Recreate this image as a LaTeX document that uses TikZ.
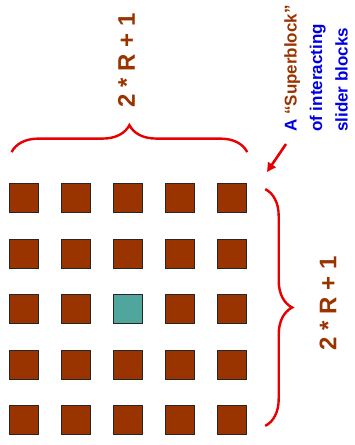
\documentclass[tikz,border=0pt]{standalone}
\usepackage{fontspec}
\setmainfont{Liberation Sans}
\usepackage{tikz}
\usetikzlibrary{arrows.meta, decorations.pathreplacing}

\definecolor{blockbrown}{RGB}{153,51,0}
\definecolor{blockteal}{RGB}{78,166,156}
\definecolor{bracered}{RGB}{232,0,0}
\definecolor{noteblue}{RGB}{0,0,230}

\begin{document}
\begin{tikzpicture}[
  x=1pt, y=1pt,
  block/.style={rectangle, draw=black!85, fill=blockbrown, line width=0.8pt, minimum size=29pt, inner sep=0pt},
  brace/.style={decorate, decoration={brace, amplitude=27pt}, draw=bracered, line width=2.4pt},
  lbl/.style={rotate=90, inner sep=0pt, text=blockbrown, font=\fontsize{24}{28}\selectfont\bfseries},
  note/.style={rotate=90, anchor=north west, align=left, inner sep=0pt, text=noteblue, font=\fontsize{17}{25.5}\selectfont\bfseries},
  arrow/.style={draw=bracered, line width=2.6pt, -{Triangle[length=9pt, width=9pt]}}
]
\useasboundingbox (0,0) rectangle (354,445);

% the superblock: 5 x 5 slider blocks, the middle one highlighted
\foreach \r in {1,...,5}
  \foreach \c in {1,...,5} {
    \ifnum\r\c=33 \def\blockfill{blockteal}\else\def\blockfill{blockbrown}\fi
    \node (sq\r\c) [block, fill=\blockfill] at ({23.5+52.2*(\c-1)}, {247-55.5*(\r-1)}) {};
  }

\draw [brace] ([shift={(3,31)}]sq11.north west) -- ([shift={(0,31)}]sq15.north east);
\draw [brace] ([shift={(18,-6)}]sq15.north east) -- ([shift={(18,9)}]sq55.south east);

\node (toplbl) [lbl] at (126.5,385) {2 * R + 1};
\node (sidelbl) [lbl] at (328,142) {2 * R + 1};

\node (note) [note] at (284,313) {A \textcolor{blockbrown}{“Superblock”}\\of interacting\\slider blocks};
\coordinate (tip) at (267,273);
\draw [arrow] ([shift={(2,-12)}]note.north west) -- (tip);
\end{tikzpicture}
\end{document}
